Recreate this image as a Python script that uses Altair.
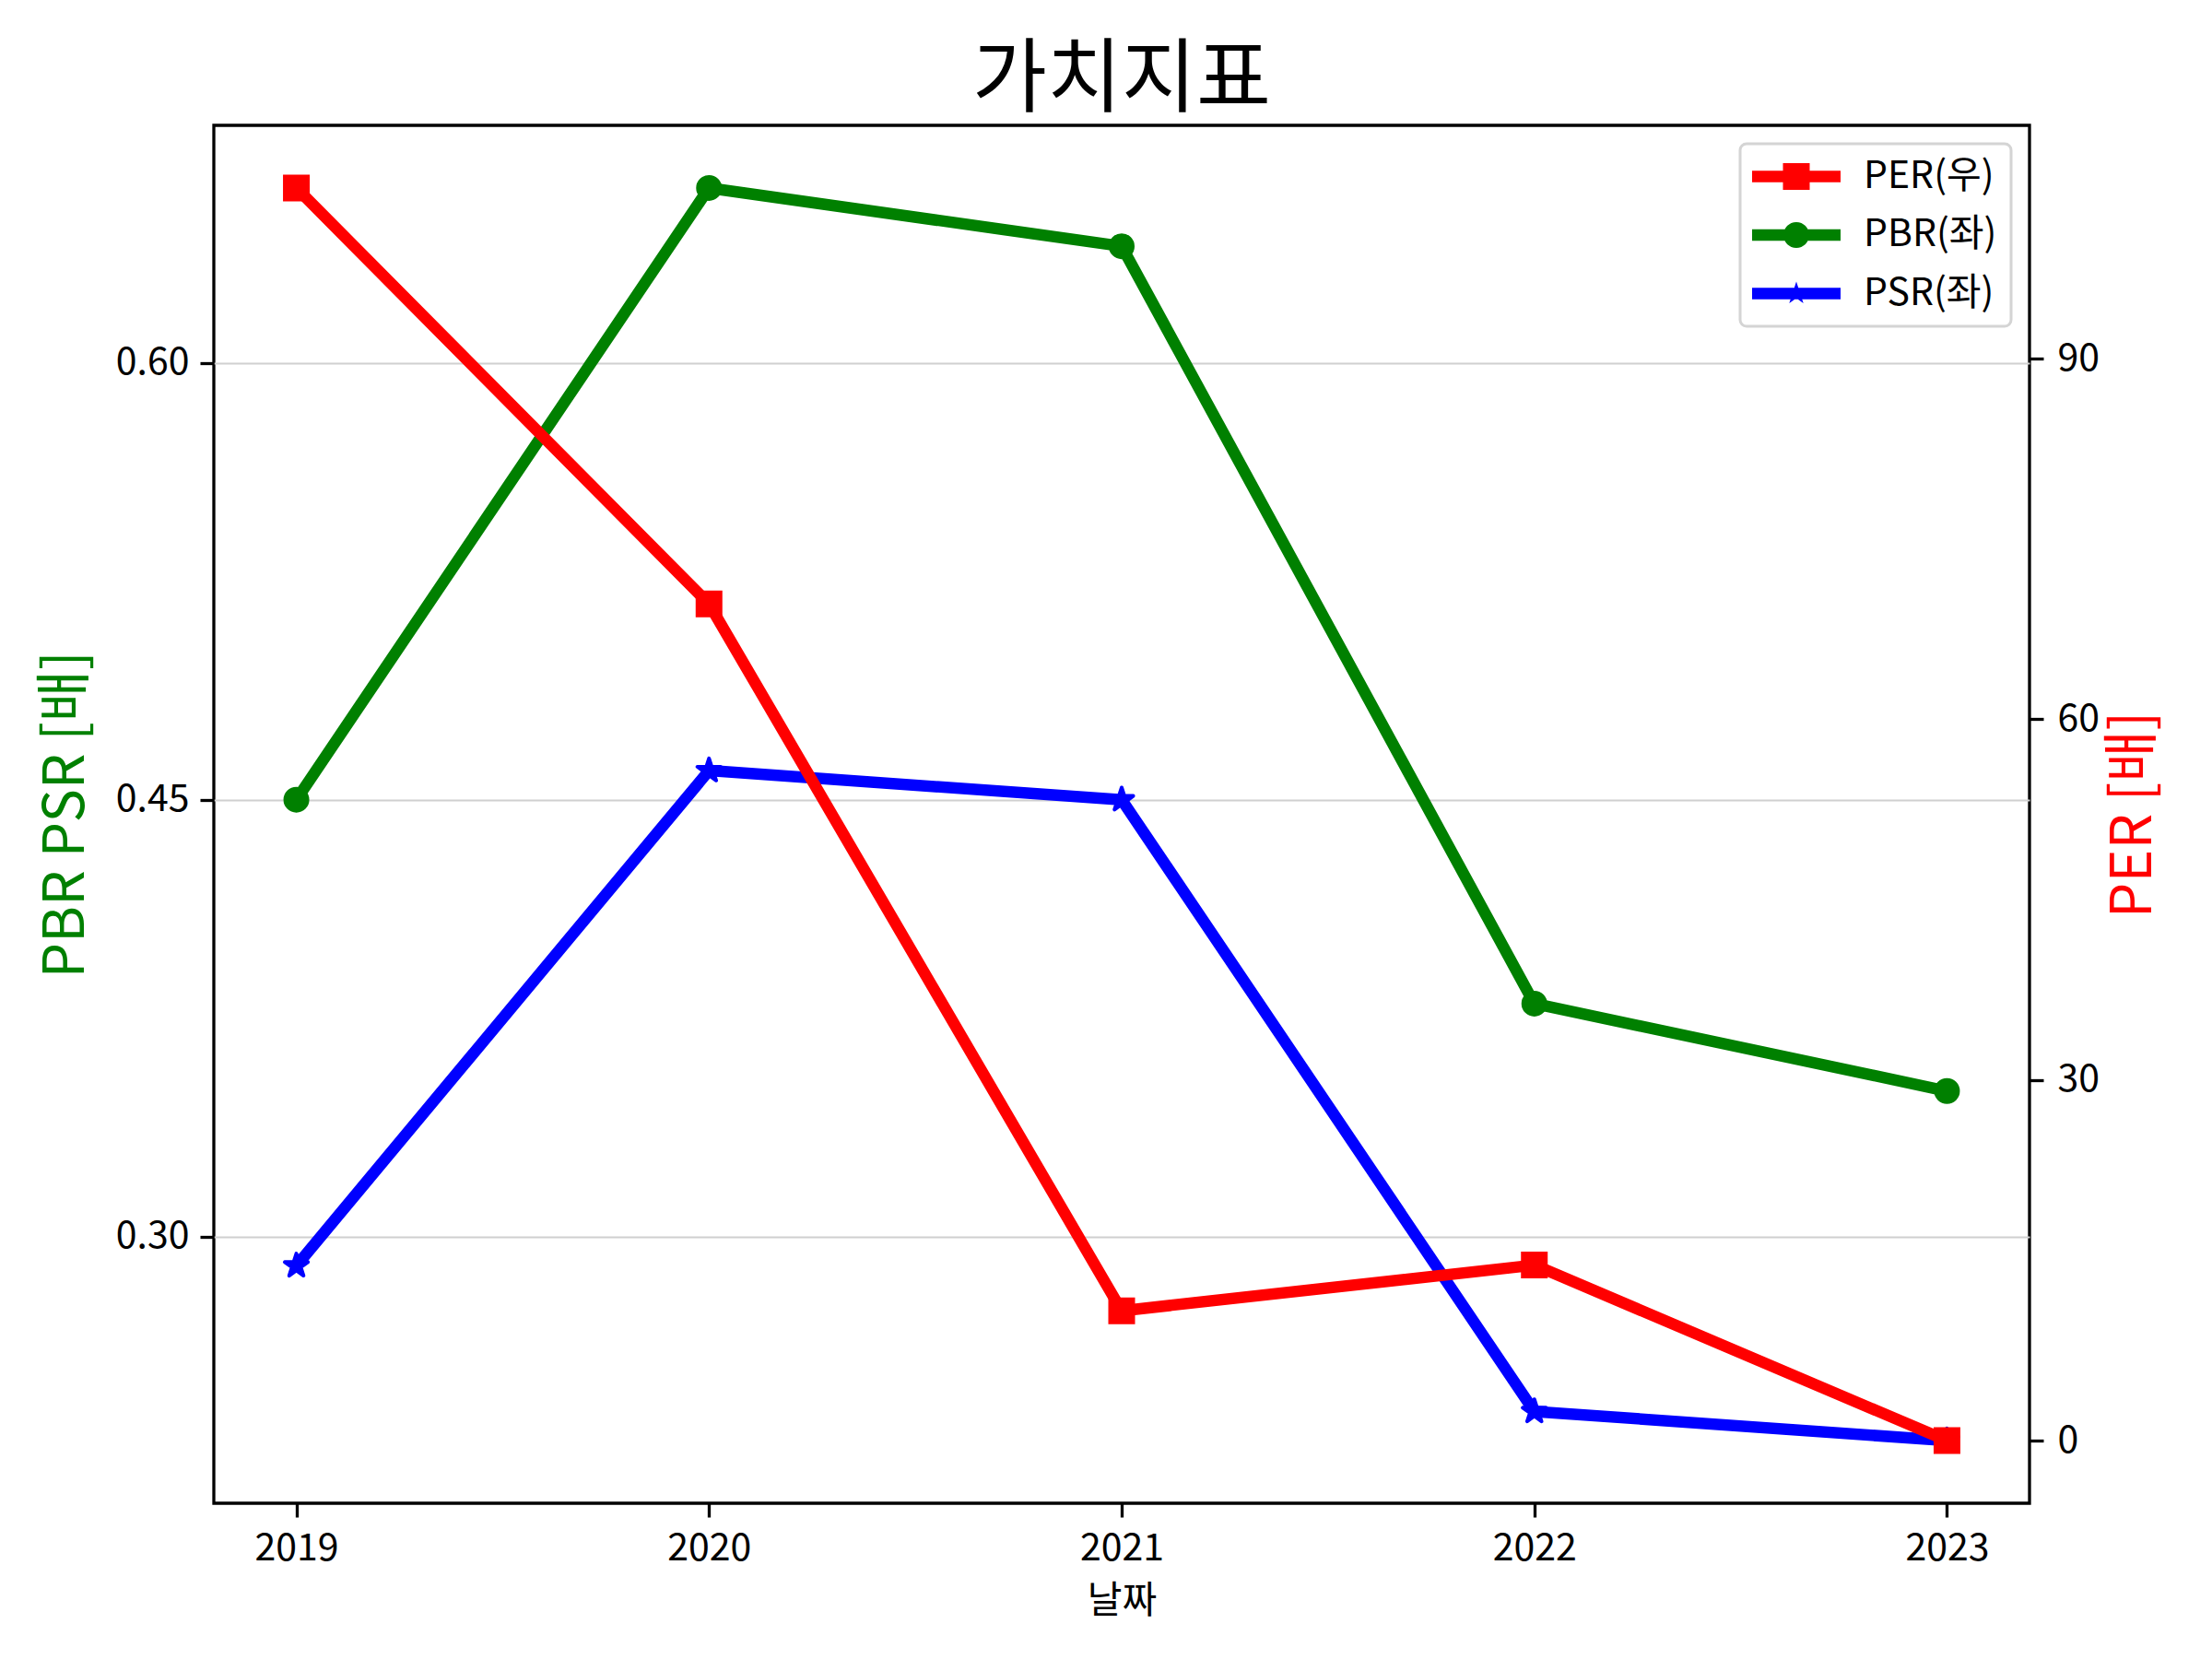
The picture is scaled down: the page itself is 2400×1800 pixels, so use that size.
import math
import altair as alt
import pandas as pd

# ---- data ----
years = [2019, 2020, 2021, 2022, 2023]
per_values = [104.2, 69.6, 10.8, 14.6, 0.0]
pbr_values = [0.450, 0.660, 0.640, 0.380, 0.350]
psr_values = [0.290, 0.460, 0.450, 0.240, 0.230]
series_names = ["PER(우)", "PBR(좌)", "PSR(좌)"]
series_colors = ["#ff0000", "#008000", "#0000ff"]
left_ticks = [0.30, 0.45, 0.60]
right_ticks = [0, 30, 60, 90]

rows = []
for name, vals in zip(series_names, [per_values, pbr_values, psr_values]):
    for yr, v in zip(years, vals):
        rows.append({"year": yr, "series": name, "value": v})
df = pd.DataFrame(rows)


def pad(lo, hi, m=0.05):
    r = hi - lo
    return [lo - m * r, hi + m * r]


x_dom = pad(min(years), max(years))
left_dom = pad(min(pbr_values + psr_values), max(pbr_values + psr_values))
right_dom = pad(min(per_values), max(per_values))

FONT = "Noto Sans CJK KR"
color_of = dict(zip(series_names, series_colors))


def star_path(outer, inner):
    pts = []
    for k in range(10):
        ang = math.radians(-90 + 36 * k)
        r = outer if k % 2 == 0 else inner
        pts.append((r * math.cos(ang), r * math.sin(ang)))
    return "M" + " L".join(f"{x:.4f},{y:.4f}" for x, y in pts) + " Z"


# legend symbols: line segment + marker; unit = sqrt(symbolSize)/2 = 14.5 px
L = 3.31
h = 0.431
bar = f"M-{L},-{h} L{L},-{h} L{L},{h} L-{L},{h} Z"
s = 1.0
leg_square = bar + f" M-{s},-{s} L{s},-{s} L{s},{s} L-{s},{s} Z"
r = 0.966
leg_circle = bar + f" M{r},0 A{r},{r} 0 1,1 -{r},0 A{r},{r} 0 1,1 {r},0 Z"
leg_star = bar + " " + star_path(0.9, 0.9 * 0.381966)
chart_star = star_path(1.0, 0.381966)

x_enc = alt.X(
    "year:Q",
    scale=alt.Scale(domain=x_dom, nice=False, zero=False),
    axis=alt.Axis(values=years, format="d", title="날짜", grid=False,
                  labelPadding=14, titlePadding=17),
)
color_scale = alt.Scale(domain=series_names, range=series_colors)

left_y = alt.Y(
    "value:Q",
    scale=alt.Scale(domain=left_dom, nice=False, zero=False),
    axis=alt.Axis(values=left_ticks, format=".2f", title="PBR PSR [배]",
                  titleColor="#008000", grid=True, orient="left",
                  labelPadding=12, titlePadding=22),
)
right_y = alt.Y(
    "value:Q",
    scale=alt.Scale(domain=right_dom, nice=False, zero=False),
    axis=alt.Axis(values=right_ticks, format="d", title="PER [배]",
                  titleColor="#ff0000", grid=False, orient="right",
                  labelPadding=15, titlePadding=8,
                  titleAngle=270, titleBaseline="top"),
)


def series_layers(name, shape, size, y_enc, join="miter"):
    c = color_of[name]
    base = alt.Chart(df).transform_filter(alt.datum.series == name)
    line = base.mark_line(strokeWidth=12.5, strokeJoin="round", color=c).encode(
        x=x_enc, y=y_enc)
    pts = base.mark_point(shape=shape, filled=True, size=size, opacity=1,
                          fill=c, stroke=c, strokeWidth=4,
                          strokeJoin=join).encode(x=x_enc, y=y_enc)
    return [line, pts]


legend_layer = (
    alt.Chart(df)
    .transform_filter("false")
    .mark_point(filled=True)
    .encode(
        x=x_enc,
        y=left_y,
        color=alt.Color("series:N", scale=color_scale, legend=alt.Legend(title=None)),
        shape=alt.Shape("series:N",
                        scale=alt.Scale(domain=series_names,
                                        range=[leg_square, leg_circle, leg_star]),
                        legend=alt.Legend(title=None)),
    )
)

left = alt.layer(
    *series_layers("PBR(좌)", "circle", 576, left_y),
    *series_layers("PSR(좌)", chart_star, 700, left_y, join="round"),
    legend_layer,
)
right = alt.layer(*series_layers("PER(우)", "square", 625, right_y))

chart = (
    alt.layer(left, right)
    .resolve_scale(y="independent")
    .properties(
        width=1970,
        height=1495,
        padding={"left": 33, "top": 36, "right": 40, "bottom": 20},
        title=alt.TitleParams(text="가치지표", fontSize=88, fontWeight="normal",
                              anchor="middle", frame="group", offset=4,
                              color="black", font=FONT),
    )
    .configure(font=FONT)
    .configure_view(stroke="black", strokeWidth=3.3)
    .configure_axis(
        labelFont=FONT, labelFontSize=41, labelColor="black",
        tickColor="black", tickSize=15, tickWidth=3.3, domain=False,
        titleFont=FONT, titleFontSize=61, titleFontWeight="normal",
        gridColor="#d0d0d0", gridWidth=2,
    )
    .configure_axisX(titleFontSize=41, titleColor="black")
    .configure_legend(
        orient="top-right", offset=20, padding=15, rowPadding=21.5,
        strokeColor="#d4d4d4", strokeWidth=3, cornerRadius=7, fillColor="white",
        labelFont=FONT, labelFontSize=41, labelColor="black",
        symbolSize=841, symbolStrokeWidth=0, symbolOpacity=1,
        symbolOffset=25.5, labelOffset=52.5,
    )
)

chart.save("out.html", embed_options={"renderer": "svg", "actions": False})
